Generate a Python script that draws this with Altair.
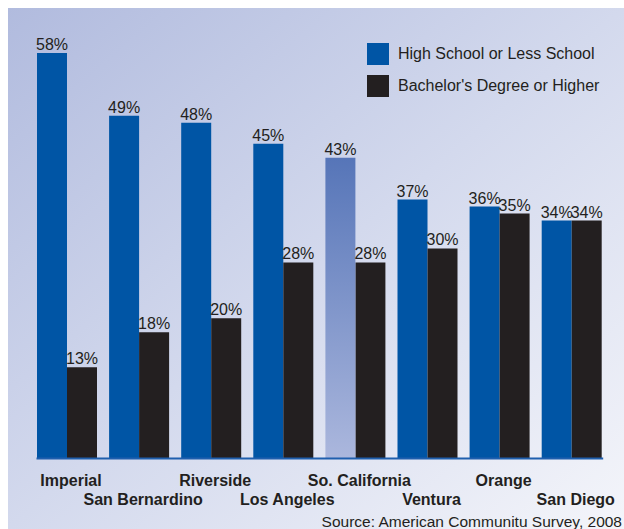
import json
import altair as alt
import pandas as pd

# ---- data ----
categories = ["Imperial", "San Bernardino", "Riverside", "Los Angeles",
              "So. California", "Ventura", "Orange", "San Diego"]
series = ["High School or Less School", "Bachelor's Degree or Higher"]
high_school = [58, 49, 48, 45, 43, 37, 36, 34]
bachelor = [13, 18, 20, 28, 28, 30, 35, 34]
highlight = "So. California"
source_note = "Source:  American Communitu Survey, 2008"

rows = []
for c, h, b in zip(categories, high_school, bachelor):
    rows.append({"region": c, "series": series[0], "value": h})
    rows.append({"region": c, "series": series[1], "value": b})
df = pd.DataFrame(rows)
df["label"] = df["value"].astype(str) + "%"

FONT = "Liberation Sans, Arial, Helvetica, sans-serif"
INK = "#231f20"
BLUE = "#0055a5"

odd_labels = categories[1::2]
label_expr = (f"indexof({json.dumps(odd_labels)}, datum.value) >= 0 "
              f"? ['', datum.label] : datum.label")

x_enc = alt.X(
    "region:N", sort=categories, title=None,
    scale=alt.Scale(domain=categories, range=[28, 594.7],
                    paddingInner=0.1678, paddingOuter=0.0139),
    axis=alt.Axis(orient="bottom", offset=-71, ticks=False, grid=False,
                  zindex=1,
                  domainColor="#1f5fae", domainWidth=2,
                  labelAngle=0, labelFont=FONT, labelFontWeight="bold",
                  labelFontSize=16, labelColor=INK, labelPadding=14,
                  labelBaseline="top", labelLineHeight=19.5, labelOffset=4,
                  labelExpr=label_expr, labelOverlap=False),
)
xo_enc = alt.XOffset("series:N", sort=series,
                     scale=alt.Scale(domain=series, paddingInner=0, paddingOuter=0))
y_scale = alt.Scale(domain=[-10.17, 64.44], nice=False, zero=False)
y_enc = alt.Y("value:Q", scale=y_scale, axis=None)

base = alt.Chart(df)

backdrop = alt.Chart(pd.DataFrame({"k": [0]})).mark_rect(
    color=alt.LinearGradient(
        gradient="linear",
        stops=[alt.GradientStop(color="#b1bbde", offset=0),
               alt.GradientStop(color="#d3d9ed", offset=0.5),
               alt.GradientStop(color="#f4f5fa", offset=1)],
        x1=0, y1=0, x2=1, y2=1,
    )
).encode(
    x=alt.value(0), x2=alt.value("width"),
    y=alt.value(0), y2=alt.value("height"),
)

bars = base.mark_bar().encode(
    x=x_enc, xOffset=xo_enc, y=y_enc, y2=alt.datum(0),
    color=alt.Color(
        "series:N", sort=series,
        scale=alt.Scale(domain=series, range=[BLUE, INK]),
        legend=alt.Legend(title=None, orient="none", legendX=359, legendY=35,
                          symbolType="square", symbolSize=484,
                          symbolStrokeWidth=0, symbolOpacity=1,
                          labelFont=FONT, labelFontSize=16, labelColor=INK,
                          labelOffset=9, rowPadding=10, padding=0,
                          labelLimit=400),
    ),
).transform_filter(
    f"!(datum.region == '{highlight}' && datum.series == {json.dumps(series[0])})"
)

hl_bar = base.mark_bar(
    color=alt.LinearGradient(
        gradient="linear",
        stops=[alt.GradientStop(color="#5675b8", offset=0),
               alt.GradientStop(color="#abb7dd", offset=1)],
        x1=0, x2=0, y1=0, y2=1,
    )
).encode(
    x=x_enc, xOffset=xo_enc, y=y_enc, y2=alt.datum(0),
).transform_filter(
    f"datum.region == '{highlight}' && datum.series == {json.dumps(series[0])}"
)

labels = base.mark_text(
    font=FONT, fontSize=16, color=INK, baseline="alphabetic", dy=-3
).encode(
    x=x_enc, xOffset=xo_enc, y=y_enc, text="label:N",
)

src = alt.Chart(pd.DataFrame({"t": [source_note]})).mark_text(
    font=FONT, fontSize=15.5, color=INK, align="right", baseline="alphabetic"
).encode(
    x=alt.value(614), y=alt.value(519), text="t:N",
)

chart = alt.layer(backdrop, bars, hl_bar, labels, src).properties(
    width=616, height=521,
    padding={"left": 8, "top": 8, "right": 0, "bottom": 0},
    autosize=alt.AutoSizeParams(type="none"),
    background="white",
).configure_view(
    strokeWidth=0,
)

chart.save("out.html", embed_options={"renderer": "svg", "actions": False})
